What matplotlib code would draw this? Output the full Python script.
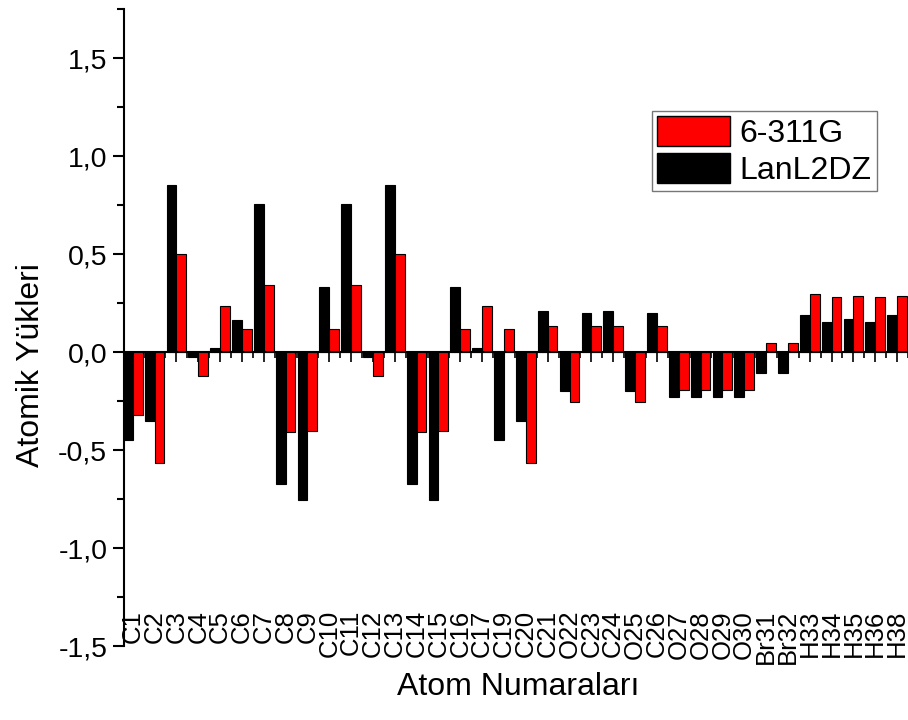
import numpy as np
import matplotlib.pyplot as plt
from matplotlib.patches import Patch
from matplotlib.ticker import MultipleLocator, FuncFormatter

plt.rcParams['font.family'] = ['Liberation Sans', 'DejaVu Sans']

labels = ['C1', 'C2', 'C3', 'C4', 'C5', 'C6', 'C7', 'C8', 'C9', 'C10', 'C11', 'C12',
          'C13', 'C14', 'C15', 'C16', 'C17', 'C19', 'C20', 'C21', 'O22', 'C23', 'C24',
          'O25', 'C26', 'O27', 'O28', 'O29', 'O30', 'Br31', 'Br32', 'H33', 'H34',
          'H35', 'H36', 'H38']

lanl2dz = [-0.45, -0.35, 0.85, -0.025, 0.02, 0.165, 0.755, -0.675, -0.755, 0.33,
           0.755, -0.025, 0.85, -0.675, -0.755, 0.33, 0.02, -0.45, -0.35, 0.21,
           -0.20, 0.20, 0.21, -0.20, 0.20, -0.228, -0.228, -0.228, -0.228, -0.105,
           -0.105, 0.19, 0.155, 0.17, 0.155, 0.19]

b6311g = [-0.32, -0.565, 0.50, -0.12, 0.235, 0.115, 0.34, -0.41, -0.405, 0.115,
          0.34, -0.12, 0.50, -0.41, -0.405, 0.115, 0.235, 0.115, -0.565, 0.135,
          -0.255, 0.135, 0.135, -0.255, 0.135, -0.195, -0.195, -0.195, -0.195, 0.045,
          0.045, 0.295, 0.28, 0.287, 0.28, 0.287]

x = np.arange(len(labels))
w = 0.45

fig = plt.figure(figsize=(9.08, 7.2), dpi=100)
ax = fig.add_axes([124/908, 74/720, 784/908, 637/720])

ax.bar(x - w/2, lanl2dz, w, color='black', edgecolor='black', linewidth=0.8)
ax.bar(x + w/2, b6311g, w, color='#ff0000', edgecolor='black', linewidth=0.8)

ax.set_xlim(-0.40, 35.40)
ax.set_ylim(-1.5, 1.75)

# x axis sits on zero, labels drawn at the bottom
ax.spines['top'].set_visible(False)
ax.spines['right'].set_visible(False)
ax.spines['bottom'].set_position(('data', 0))
ax.spines['bottom'].set_linewidth(1.5)
ax.spines['left'].set_linewidth(1.5)
ax.set_xticks(x)
ax.set_xticks(x + 0.5, minor=True)
ax.tick_params(axis='x', which='major', direction='out', length=7, width=1.2,
               labelbottom=False)
ax.tick_params(axis='x', which='minor', direction='out', length=4, width=1.2)

ax.yaxis.set_major_locator(MultipleLocator(0.5))
ax.yaxis.set_minor_locator(MultipleLocator(0.25))
ax.yaxis.set_major_formatter(FuncFormatter(lambda v, p: f'{v:.1f}'.replace('.', ',')))
ax.tick_params(axis='y', which='major', direction='out', length=8, width=1.5,
               labelsize=20.5, pad=4)
ax.tick_params(axis='y', which='minor', direction='out', length=5, width=1.5)

for i, lab in enumerate(labels):
    ax.text(i, -1.316, lab, rotation=90, ha='center', va='top', fontsize=18.5)

fig.text(518/908, 25/720, 'Atom Numaraları', ha='center', va='baseline', fontsize=23)
fig.text(31/908, 0.493, 'Atomik Yükleri', rotation=90, ha='center', va='center',
         fontsize=23)

handles = [Patch(facecolor='#ff0000', edgecolor='black', linewidth=1),
           Patch(facecolor='black', edgecolor='black', linewidth=1)]
leg = fig.legend(handles, ['6-311G', 'LanL2DZ'], loc='upper left',
                 bbox_to_anchor=(652/908, 1 - 111/720), fontsize=23,
                 handlelength=2.3, handleheight=1.1, labelspacing=0.12,
                 borderpad=0.15, handletextpad=0.3, borderaxespad=0,
                 fancybox=False, framealpha=1)
leg.get_frame().set_edgecolor('#777777')
leg.get_frame().set_linewidth(1)

fig.savefig('out.png', dpi=100)
